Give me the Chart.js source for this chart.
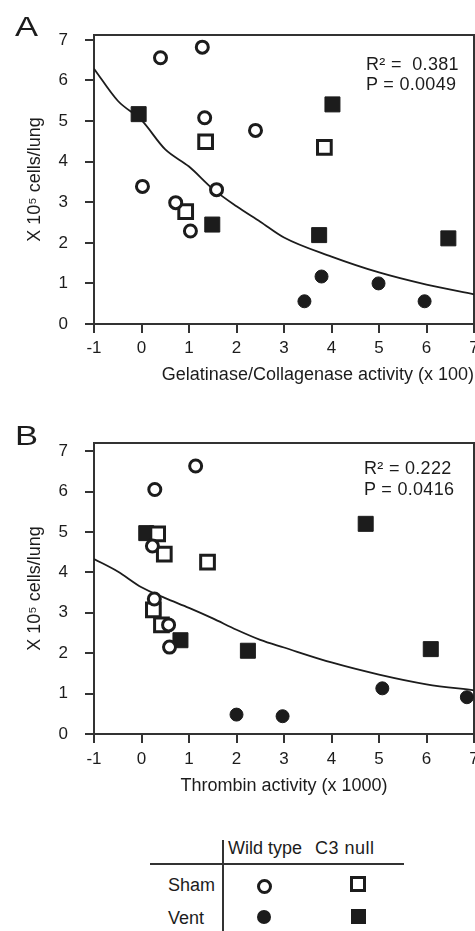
<!DOCTYPE html>
<html>
<head>
<meta charset="utf-8">
<script src="https://cdn.jsdelivr.net/npm/chart.js@4.4.1/dist/chart.umd.min.js"></script>
<style>
html,body{margin:0;padding:0;background:#fff;}
#page{position:relative;width:475px;height:931px;overflow:hidden;background:#fff;font-family:'Liberation Sans',Arial,sans-serif;color:#1c1c1c;}
canvas{position:absolute;left:0;}
.t{position:absolute;white-space:nowrap;}
.panel{font-size:27px;line-height:27px;transform:scaleX(1.28);transform-origin:left center;}
.stat{font-size:18px;line-height:20px;text-align:left;letter-spacing:0.3px;}
.lg{font-size:18px;line-height:22px;}
.ln{position:absolute;background:#333;}
.sym{position:absolute;box-sizing:border-box;}
</style>
</head>
<body>
<div id="page">
  <canvas id="cA" width="475" height="400" style="top:0px"></canvas>
  <canvas id="cB" width="475" height="400" style="top:400px"></canvas>

  <div class="t panel" style="left:15px;top:14px">A</div>
  <div class="t panel" style="left:15px;top:423px">B</div>

  <div class="t stat" style="left:366px;top:54px">R²&nbsp;=&nbsp;&nbsp;0.381<br>P = 0.0049</div>
  <div class="t stat" style="left:364px;top:458px;line-height:21px">R² = 0.222<br>P = 0.0416</div>

  <!-- legend table -->
  <div class="ln" style="left:222px;top:840px;width:1.5px;height:91px"></div>
  <div class="ln" style="left:150px;top:863px;width:254px;height:2px"></div>
  <div class="t lg" style="left:228px;top:837px">Wild type</div>
  <div class="t lg" style="left:315px;top:837px;letter-spacing:0.5px">C3 null</div>
  <div class="t lg" style="left:168px;top:874px">Sham</div>
  <div class="t lg" style="left:168px;top:907px">Vent</div>
  <div class="sym" style="left:256.5px;top:878.5px;width:15px;height:15px;border:3px solid #1c1c1c;border-radius:50%;background:#fff"></div>
  <div class="sym" style="left:350px;top:876px;width:16px;height:16px;border:3px solid #1c1c1c;background:#fff"></div>
  <div class="sym" style="left:257px;top:910px;width:14px;height:14px;border-radius:50%;background:#1c1c1c"></div>
  <div class="sym" style="left:350.5px;top:908.5px;width:15px;height:15px;background:#1c1c1c"></div>
</div>

<script>
// ---------- tick values ----------
const xTicks = [-1, 0, 1, 2, 3, 4, 5, 6, 7];
const yTicks = [0, 1, 2, 3, 4, 5, 6, 7];

// ---------- Panel A : Gelatinase/Collagenase activity (x 100) ----------
const shamWT_A_x = [0.40, 1.28, 1.33, 2.40, 0.02, 0.72, 1.03, 1.58];
const shamWT_A_y = [6.56, 6.82, 5.08, 4.77, 3.39, 2.99, 2.29, 3.31];
const shamC3_A_x = [1.35, 3.85, 0.93];
const shamC3_A_y = [4.49, 4.35, 2.77];
const ventC3_A_x = [-0.06, 4.02, 1.49, 3.74, 6.46];
const ventC3_A_y = [5.17, 5.41, 2.45, 2.19, 2.11];
const ventWT_A_x = [3.43, 3.79, 4.99, 5.96];
const ventWT_A_y = [0.56, 1.17, 1.00, 0.56];
const fitA_x = [-1, -0.5, 0, 0.5, 1, 1.5, 2, 2.5, 3, 4, 5, 6, 7];
const fitA_y = [6.29, 5.50, 5.02, 4.30, 3.88, 3.33, 2.90, 2.52, 2.13, 1.66, 1.27, 0.97, 0.73];

// ---------- Panel B : Thrombin activity (x 1000) ----------
const shamWT_B_x = [1.14, 0.28, 0.23, 0.27, 0.57, 0.59];
const shamWT_B_y = [6.63, 6.05, 4.65, 3.34, 2.70, 2.15];
const shamC3_B_x = [0.34, 0.48, 1.39, 0.25, 0.42];
const shamC3_B_y = [4.95, 4.45, 4.25, 3.07, 2.70];
const ventC3_B_x = [0.10, 4.72, 0.82, 2.24, 6.09];
const ventC3_B_y = [4.97, 5.20, 2.32, 2.06, 2.10];
const ventWT_B_x = [2.00, 2.97, 5.07, 6.85];
const ventWT_B_y = [0.48, 0.44, 1.13, 0.91];
const fitB_x = [-1, -0.5, 0, 0.5, 1, 1.5, 2, 2.5, 3, 4, 5, 6, 7];
const fitB_y = [4.33, 4.02, 3.63, 3.36, 3.12, 2.86, 2.58, 2.33, 2.14, 1.77, 1.47, 1.23, 1.08];

const yTitle = 'X 10⁵ cells/lung';
const xTitleA = 'Gelatinase/Collagenase activity (x 100)';
const xTitleB = 'Thrombin activity (x 1000)';

// ---------- rendering ----------
const INK = '#1c1c1c';
Chart.defaults.font.family = "'Liberation Sans', Arial, sans-serif";
Chart.defaults.color = INK;

function pts(xs, ys) { return xs.map((x, i) => ({ x: x, y: ys[i] })); }

const frame = {
  id: 'frame',
  beforeDatasetsDraw(chart) {
    const { ctx, chartArea: { left, top, right, bottom } } = chart;
    ctx.save();
    ctx.strokeStyle = '#333';
    ctx.lineWidth = 2;
    ctx.beginPath();
    ctx.moveTo(left - 1, top);
    ctx.lineTo(right, top);
    ctx.lineTo(right, bottom);
    ctx.stroke();
    ctx.restore();
  }
};

function build(id, d, o) {
  return new Chart(document.getElementById(id), {
    type: 'scatter',
    data: {
      datasets: [
        { label: 'Sham wild type', data: pts(d.swx, d.swy), pointStyle: 'circle', pointRadius: 6,
          pointBorderWidth: 3, pointBackgroundColor: '#fff', pointBorderColor: INK, clip: false },
        { label: 'Sham C3 null', data: pts(d.scx, d.scy), pointStyle: 'rect', pointRadius: 9.7,
          pointBorderWidth: 3, pointBackgroundColor: '#fff', pointBorderColor: INK, clip: false },
        { label: 'Vent C3 null', data: pts(d.vcx, d.vcy), pointStyle: 'rect', pointRadius: 10.6,
          pointBorderWidth: 1, pointBackgroundColor: INK, pointBorderColor: INK, clip: false },
        { label: 'Vent wild type', data: pts(d.vwx, d.vwy), pointStyle: 'circle', pointRadius: 6.5,
          pointBorderWidth: 1, pointBackgroundColor: INK, pointBorderColor: INK, clip: false },
        { label: 'Fit', data: pts(d.fx, d.fy), showLine: true, pointRadius: 0, borderColor: INK,
          borderWidth: 1.8, cubicInterpolationMode: 'monotone', fill: false }
      ]
    },
    options: {
      responsive: false, animation: false, devicePixelRatio: 1, events: [],
      layout: { autoPadding: false, padding: { top: o.top, right: 1, left: 0, bottom: 0 } },
      plugins: { legend: { display: false }, tooltip: { enabled: false } },
      scales: {
        x: {
          type: 'linear', position: 'bottom', min: -1, max: 7,
          afterBuildTicks: s => { s.ticks = xTicks.map(v => ({ value: v })); },
          afterFit: s => { s.height = o.xh; s.paddingLeft = 0; s.paddingRight = 0; },
          ticks: { font: { size: 17 }, color: INK, padding: o.tp, maxRotation: 0, autoSkip: false },
          grid: { display: true, drawOnChartArea: false, drawTicks: true, tickLength: 9, tickWidth: 2, tickColor: '#333', lineWidth: 2, color: '#333' },
          border: { display: true, width: 2, color: '#333' },
          title: { display: true, text: d.xt, font: { size: 18 }, color: INK, align: o.xalign, padding: { top: 0, bottom: o.tb } }
        },
        y: {
          type: 'linear', position: 'left', min: 0, max: o.ymax,
          afterBuildTicks: s => { s.ticks = yTicks.map(v => ({ value: v })); },
          afterFit: s => { s.width = 94; s.paddingTop = 0; s.paddingBottom = 0; },
          ticks: { font: { size: 17 }, color: INK, padding: 17 },
          grid: { display: true, drawOnChartArea: false, drawTicks: true, tickLength: 9, tickWidth: 2, tickColor: '#333', lineWidth: 2, color: '#333' },
          border: { display: true, width: 2, color: '#333' },
          title: { display: true, text: yTitle, font: { size: 18 }, color: INK, padding: { top: 24, bottom: 0 } }
        }
      }
    },
    plugins: [frame]
  });
}

build('cA', {
  swx: shamWT_A_x, swy: shamWT_A_y, scx: shamC3_A_x, scy: shamC3_A_y,
  vcx: ventC3_A_x, vcy: ventC3_A_y, vwx: ventWT_A_x, vwy: ventWT_A_y,
  fx: fitA_x, fy: fitA_y, xt: xTitleA
}, { top: 35, xh: 76, ymax: 7.12, tp: 5, tb: 14, xalign: 'end' });

build('cB', {
  swx: shamWT_B_x, swy: shamWT_B_y, scx: shamC3_B_x, scy: shamC3_B_y,
  vcx: ventC3_B_x, vcy: ventC3_B_y, vwx: ventWT_B_x, vwy: ventWT_B_y,
  fx: fitB_x, fy: fitB_y, xt: xTitleB
}, { top: 43, xh: 66, ymax: 7.2, tp: 6, tb: 3, xalign: 'center' });
</script>
</body>
</html>
